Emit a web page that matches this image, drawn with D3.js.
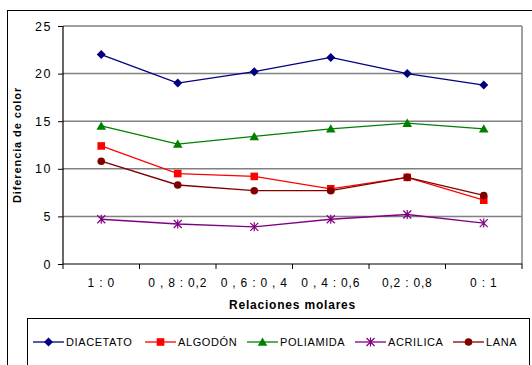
<!DOCTYPE html>
<html><head><meta charset="utf-8">
<script src="https://cdn.jsdelivr.net/npm/d3@7"></script>
<style>body{margin:0;background:#fff}svg{display:block;font-family:Arial,"Liberation Sans",sans-serif}</style>
</head><body><svg id="c" width="532" height="365"></svg>
<script>
const categories = ["1 : 0", "0 , 8 : 0,2", "0 , 6 : 0 , 4", "0 , 4 : 0,6", "0,2 : 0,8", "0 : 1"];
const diacetato = [22.0, 19.0, 20.2, 21.7, 20.0, 18.8];
const algodon   = [12.4, 9.5, 9.2, 7.9, 9.1, 6.7];
const poliamida = [14.5, 12.6, 13.4, 14.2, 14.8, 14.2];
const acrilica  = [4.7, 4.2, 3.9, 4.7, 5.2, 4.3];
const lana      = [10.8, 8.3, 7.7, 7.7, 9.1, 7.2];
const yTicks = [0, 5, 10, 15, 20, 25];
const seriesNames = ["DIACETATO", "ALGODÓN", "POLIAMIDA", "ACRILICA", "LANA"];

const series = [
  {name: seriesNames[0], values: diacetato, color: "#000080", marker: "diamond"},
  {name: seriesNames[1], values: algodon, color: "#FF0000", marker: "square"},
  {name: seriesNames[2], values: poliamida, color: "#008000", marker: "triangle"},
  {name: seriesNames[3], values: acrilica, color: "#800080", marker: "star"},
  {name: seriesNames[4], values: lana, color: "#800000", marker: "circle"}
];

const svg = d3.select("#c");
const L = 63, R = 522, T = 26, B = 264;

svg.append("rect").attr("x", 7.5).attr("y", 10.5).attr("width", 560).attr("height", 400)
  .attr("fill", "none").attr("stroke", "#000").attr("stroke-width", 1);

const x = d3.scaleBand().domain(categories).range([L, R]);
const y = d3.scaleLinear().domain([0, 25]).range([B, T]);

// gridlines
svg.append("g").selectAll("line").data(yTicks.filter(d => d > 0)).join("line")
  .attr("x1", L).attr("x2", R).attr("y1", d => y(d)).attr("y2", d => y(d))
  .attr("stroke", "#808080").attr("stroke-width", 1.5);
// plot border right
svg.append("line").attr("x1", R).attr("x2", R).attr("y1", T).attr("y2", B)
  .attr("stroke", "#808080").attr("stroke-width", 1.5);

// y axis
const yAxis = svg.append("g").attr("transform", `translate(${L},0)`)
  .call(d3.axisLeft(y).tickValues(yTicks).tickSize(5).tickPadding(6));
yAxis.select(".domain").attr("stroke", "#000").attr("stroke-width", 1.2).attr("d", `M0,${T}V${B}`);
yAxis.selectAll(".tick line").attr("stroke", "#000");
yAxis.selectAll("text").attr("font-size", 12.5).attr("letter-spacing", "1.5px")
  .attr("font-family", "Arial, Liberation Sans, sans-serif").attr("fill", "#000");

// x axis
const xAxis = svg.append("g").attr("transform", `translate(0,${B})`)
  .call(d3.axisBottom(x).tickSize(0).tickPadding(14));
xAxis.select(".domain").attr("stroke", "#000").attr("stroke-width", 1.2).attr("d", `M${L},0H${R}`);
xAxis.selectAll("text").attr("font-size", 12).attr("letter-spacing", "0.8px")
  .attr("font-family", "Arial, Liberation Sans, sans-serif").attr("fill", "#000");
// band boundary ticks
const bounds = categories.map(c => x(c)).concat([R]);
svg.append("g").selectAll("line").data(bounds).join("line")
  .attr("x1", d => d).attr("x2", d => d).attr("y1", B).attr("y2", B + 5)
  .attr("stroke", "#000").attr("stroke-width", 1);

// axis titles
svg.append("text").attr("x", (L + R) / 2).attr("y", 309).attr("text-anchor", "middle")
  .attr("font-weight", "bold").attr("font-size", 12).attr("letter-spacing", "0.8px")
  .text("Relaciones molares");
svg.append("text").attr("transform", `translate(21,${(T + B) / 2}) rotate(-90)`).attr("text-anchor", "middle")
  .attr("font-weight", "bold").attr("font-size", 11).attr("letter-spacing", "0.9px")
  .text("Diferencia de color");

function drawMarker(g, type, color) {
  if (type === "diamond") g.append("path").attr("d", "M0,-4.5L4.5,0L0,4.5L-4.5,0Z").attr("fill", color);
  else if (type === "square") g.append("rect").attr("x", -3.8).attr("y", -3.8).attr("width", 7.6).attr("height", 7.6).attr("fill", color);
  else if (type === "triangle") g.append("path").attr("d", "M0,-4.5L4.8,3.8L-4.8,3.8Z").attr("fill", color);
  else if (type === "circle") g.append("circle").attr("r", 3.8).attr("fill", color);
  else if (type === "star") g.append("path").attr("d", "M-4,-4L4,4M-4,4L4,-4M0,-4.5V4.5").attr("stroke", color).attr("stroke-width", 1.2).attr("fill", "none");
}

const line = d3.line().x((d, i) => x(categories[i]) + x.bandwidth() / 2).y(d => y(d));
series.forEach(s => {
  svg.append("path").datum(s.values).attr("d", line).attr("fill", "none")
    .attr("stroke", s.color).attr("stroke-width", 1.3);
  s.values.forEach((v, i) => {
    const g = svg.append("g").attr("transform", `translate(${x(categories[i]) + x.bandwidth() / 2},${y(v)})`);
    drawMarker(g, s.marker, s.color);
  });
});

// legend
svg.append("rect").attr("x", 27.5).attr("y", 318.5).attr("width", 502).attr("height", 80)
  .attr("fill", "#fff").attr("stroke", "#000").attr("stroke-width", 1);
const legX = [33, 145, 247, 355, 453];
series.forEach((s, i) => {
  const g = svg.append("g").attr("transform", `translate(${legX[i]},342)`);
  g.append("line").attr("x1", 0).attr("x2", 31).attr("stroke", s.color).attr("stroke-width", 1.3);
  const m = g.append("g").attr("transform", "translate(15.5,0)");
  drawMarker(m, s.marker, s.color);
  g.append("text").attr("x", 33).attr("y", 4).attr("font-size", 11).attr("letter-spacing", "0.6px").text(s.name);
});
</script></body></html>
